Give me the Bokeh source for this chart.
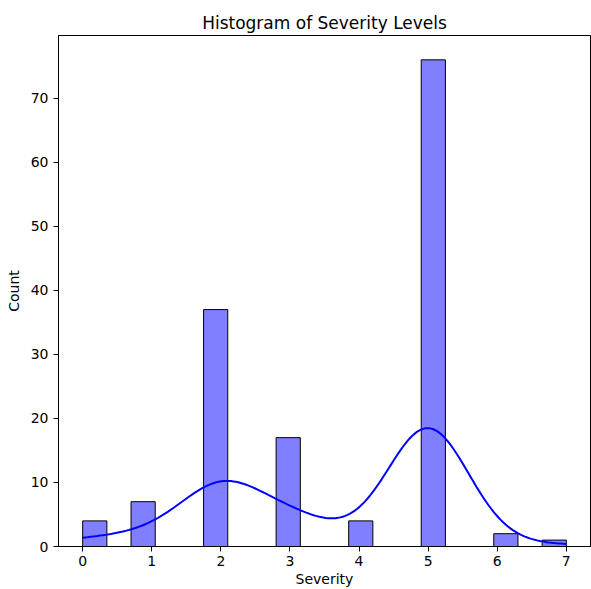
import numpy as np
from bokeh.plotting import figure
from bokeh.models import Range1d, FixedTicker
from bokeh.embed import file_html
from bokeh.resources import INLINE

# Data
severity = [0, 1, 2, 3, 4, 5, 6, 7]
counts = [4, 7, 37, 17, 4, 76, 2, 1]
n_bins = 20
x_ticks = [0, 1, 2, 3, 4, 5, 6, 7]
y_ticks = [0, 10, 20, 30, 40, 50, 60, 70]

# Histogram binning (20 bins over the data range)
vmin, vmax = min(severity), max(severity)
bw = (vmax - vmin) / n_bins
lefts, rights = [], []
for v in severity:
    i = min(int(np.floor((v - vmin) / bw + 1e-9)), n_bins - 1)
    lefts.append(vmin + i * bw)
    rights.append(vmin + (i + 1) * bw)

# KDE (gaussian, Scott bandwidth, scaled to counts)
raw = np.repeat(severity, counts).astype(float)
n = raw.size
bandwidth = raw.std(ddof=1) * n ** (-1 / 5)
xs = np.linspace(vmin, vmax, 200)
dens = np.exp(-0.5 * ((xs[:, None] - raw[None, :]) / bandwidth) ** 2).sum(axis=1) / (n * bandwidth * np.sqrt(2 * np.pi))
ys = dens * n * bw

FONT = "DejaVu Sans"
span = vmax - vmin

p = figure(width=591, height=589, output_backend="svg", toolbar_location=None,
           title="Histogram of Severity Levels",
           x_range=Range1d(vmin - 0.05 * span, vmax + 0.05 * span),
           y_range=Range1d(0, max(counts) * 1.05),
           min_border_left=58, min_border_right=1, min_border_top=35, min_border_bottom=42)

p.quad(left=lefts, right=rights, bottom=0, top=counts,
       fill_color="#0000ff", fill_alpha=0.5, line_color="black", line_width=1)
p.line(xs, ys, line_color="#0000ff", line_width=2)

p.title.align = "center"
p.title.text_font = FONT
p.title.text_font_size = "17px"
p.title.text_font_style = "normal"
p.title.text_color = "black"
p.title.offset = 0
p.title.standoff = 6

p.xgrid.visible = False
p.ygrid.visible = False
p.outline_line_color = "black"
p.outline_line_width = 1

for ax in (p.xaxis, p.yaxis):
    ax.major_label_text_font = FONT
    ax.major_label_text_font_size = "14px"
    ax.major_label_text_color = "black"
    ax.axis_label_text_font = FONT
    ax.axis_label_text_font_size = "14px"
    ax.axis_label_text_font_style = "normal"
    ax.axis_label_text_color = "black"
    ax.minor_tick_line_color = None
    ax.major_tick_out = 5
    ax.major_tick_in = 0
    ax.axis_line_color = "black"
    ax.major_tick_line_color = "black"

p.xaxis.ticker = FixedTicker(ticks=x_ticks)
p.yaxis.ticker = FixedTicker(ticks=y_ticks)
p.xaxis.axis_label = "Severity"
p.yaxis.axis_label = "Count"
p.xaxis.axis_label_standoff = 2
p.yaxis.axis_label_standoff = 6
p.xaxis.major_label_standoff = 4
p.yaxis.major_label_standoff = 5

open("out.html", "w").write(file_html(p, INLINE))
